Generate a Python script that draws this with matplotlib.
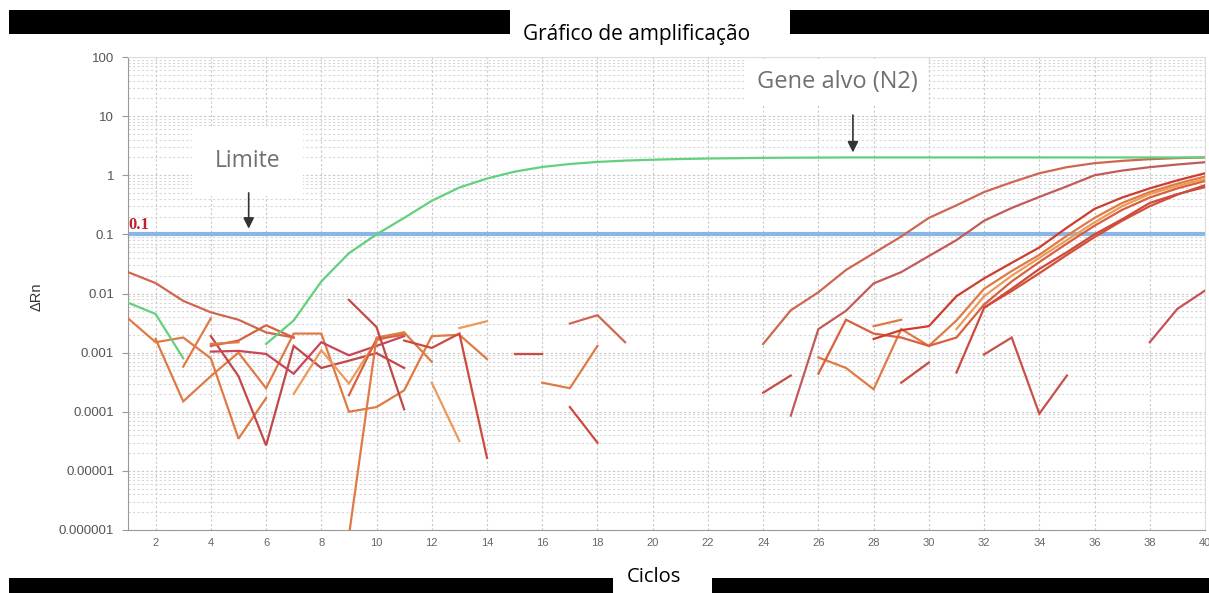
import matplotlib
matplotlib.use("Agg")
import matplotlib.pyplot as plt
from matplotlib.patches import Rectangle
from matplotlib.ticker import FixedLocator, LogLocator, NullFormatter

# each series: (first cycle, delta Rn values for consecutive cycles)
green_early = (1, [0.007, 0.0045, 0.0008])
green_main = (6, [0.0014, 0.0035, 0.016, 0.048, 0.1, 0.19, 0.37, 0.62, 0.88, 1.15,
                  1.38, 1.55, 1.68, 1.77, 1.83, 1.88, 1.92, 1.94, 1.97, 1.98,
                  1.99, 2.0, 2.0, 2.0, 2.0, 2.0, 2.0, 2.0, 2.0, 2.0, 2.0, 2.0,
                  2.0, 2.0, 2.0])

s01 = (1, [0.023, 0.015, 0.0075, 0.0048, 0.0036, 0.0022, 0.0018])
s02 = (1, [0.0038, 0.0015, 0.0018, 0.0008, 0.000035, 0.00017])
s03 = (2, [0.0017, 0.00015, 0.0004, 0.001, 0.00025, 0.0021, 0.0021, 0.0001,
           0.00012, 0.00023, 0.0019, 0.002, 0.00078])
s04 = (3, [0.00058, 0.0038])
s05 = (4, [0.0019, 0.0004, 0.000027, 0.0013, 0.00055, 0.00073, 0.00098, 0.00055])
s06 = (4, [0.0013, 0.0016, 0.0029, 0.0018])
s07 = (4, [0.0014, 0.0015])
s08 = (4, [0.00104, 0.00107, 0.00095, 0.00044, 0.0015, 0.0009, 0.0013, 0.0019])
s09 = (7, [0.0002, 0.0011, 0.0003, 0.0016, 0.0022])
s10 = (9, [0.00019, 0.0017, 0.002])
s11 = (9, [8e-7, 0.0018, 0.0022, 0.0007])
s12 = (9, [0.0078, 0.0027, 0.00011])
s13 = (11, [0.0016, 0.0012, 0.0021, 0.0000166])
s14 = (12, [0.00031, 0.000032])
s15 = (13, [0.0026, 0.0034])
s16 = (15, [0.00093, 0.00093])
s17 = (16, [0.00031, 0.00025, 0.0013])
s18 = (17, [0.0031, 0.0043, 0.0015])
s19 = (17, [0.00012, 0.00003])

r01 = (24, [0.0014, 0.0052, 0.0105, 0.025, 0.048, 0.092, 0.19, 0.31, 0.52, 0.76,
            1.08, 1.37, 1.6, 1.75, 1.87, 1.95, 2.0])
r02 = (25, [0.000086, 0.0025, 0.0051, 0.0148, 0.023, 0.043, 0.08, 0.17, 0.28, 0.43,
            0.65, 1.0, 1.2, 1.37, 1.52, 1.66])
r03 = (24, [0.00021, 0.00041])
r04 = (26, [0.00083, 0.00055, 0.00024, 0.0025, 0.0013, 0.0035, 0.012, 0.024, 0.045,
            0.095, 0.19, 0.34, 0.52, 0.72, 0.95])
r05 = (26, [0.00044, 0.0036, 0.0021, 0.0018, 0.0013, 0.0018, 0.0065, 0.016, 0.034,
            0.07, 0.14, 0.26, 0.42, 0.6, 0.8])
r06 = (28, [0.0017, 0.0024, 0.0028, 0.009, 0.018, 0.033, 0.06, 0.13, 0.27, 0.42,
            0.6, 0.82, 1.08])
r07 = (31, [0.0025, 0.009, 0.02, 0.04, 0.08, 0.16, 0.3, 0.48, 0.66, 0.86])
r08 = (32, [0.0058, 0.011, 0.022, 0.045, 0.09, 0.17, 0.3, 0.47, 0.68])
r09 = (31, [0.00046, 0.0057, 0.012, 0.026, 0.05, 0.1, 0.18, 0.34, 0.48, 0.63])
r10 = (32, [0.00093, 0.0018, 0.0000925, 0.00041])
r11 = (29, [0.00031, 0.00068])
r12 = (28, [0.0028, 0.0036])
r13 = (38, [0.0015, 0.0055, 0.0112])

threshold = 0.1
x_ticks = list(range(2, 41, 2))
y_ticks = [1e-6, 1e-5, 1e-4, 1e-3, 1e-2, 1e-1, 1, 10, 100]
y_labels = ["0.000001", "0.00001", "0.0001", "0.001", "0.01", "0.1", "1", "10", "100"]

RED = "#cc4a3e"
DRED = "#c24848"
BRICK = "#cf6650"
ORANGE = "#e07a45"
LORANGE = "#eb9a5a"
GREEN = "#62d07c"

lines = [
    (s01, BRICK), (s02, ORANGE), (s03, ORANGE), (s04, ORANGE), (s05, DRED),
    (s06, "#d9603f"), (s07, ORANGE), (s08, "#c9455a"), (s09, LORANGE),
    (s10, "#d9603f"), (s11, ORANGE), (s12, DRED), (s13, RED), (s14, LORANGE),
    (s15, LORANGE), (s16, RED), (s17, ORANGE), (s18, BRICK), (s19, RED),
    (r01, BRICK), (r02, "#c25a5a"), (r03, RED), (r04, ORANGE), (r05, "#d9603f"),
    (r06, "#cc3d30"), (r07, LORANGE), (r08, "#d45035"), (r09, RED), (r10, "#c85048"),
    (r11, RED), (r12, ORANGE), (r13, "#c85058"),
]

plt.rcParams["font.family"] = ["Liberation Sans", "DejaVu Sans"]

W, H = 1209, 593
fig = plt.figure(figsize=(W / 100, H / 100), dpi=100)
ax = fig.add_axes([128 / W, 1 - 530 / H, (1205 - 128) / W, (530 - 57) / H])

ax.set_yscale("log")
ax.set_xlim(1, 40)
ax.set_ylim(1e-6, 100)

# grid
ax.xaxis.set_major_locator(FixedLocator(x_ticks))
ax.yaxis.set_major_locator(FixedLocator(y_ticks))
ax.yaxis.set_minor_locator(LogLocator(base=10, subs=range(2, 10), numticks=20))
ax.yaxis.set_minor_formatter(NullFormatter())
ax.set_xticklabels([str(t) for t in x_ticks])
ax.set_yticklabels(y_labels)
ax.grid(True, which="major", axis="both", color="#c8c8c8", lw=0.8, ls=(0, (2, 2)))
ax.grid(True, which="minor", axis="y", color="#d8d8d8", lw=0.8, ls=(0, (2, 2)))
ax.set_axisbelow(True)

ax.tick_params(axis="y", which="major", length=4, color="#999999", labelsize=9.5,
               labelcolor="#555555", pad=6)
ax.tick_params(axis="y", which="minor", length=0)
ax.tick_params(axis="x", length=0, labelsize=8, labelcolor="#666666", pad=6)
for side in ("left", "bottom"):
    ax.spines[side].set_color("#999999")
for side in ("top", "right"):
    ax.spines[side].set_color("#dddddd")

for (start, vals), col in lines:
    ax.plot(range(start, start + len(vals)), vals, color=col, lw=1.6, zorder=3,
            solid_joinstyle="miter")
for start, vals in (green_early, green_main):
    ax.plot(range(start, start + len(vals)), vals, color=GREEN, lw=1.6, zorder=4)

ax.axhline(threshold, color="#8ab6e6", lw=3, zorder=2)
ax.text(1.03, 0.104, "0.1", color="#c0202a", fontsize=12, fontweight="bold",
        family="Liberation Serif", ha="left", va="bottom", zorder=5)

# annotations
ax.text(5.33, 1.37, "Limite", family="Open Sans", fontsize=16.5, color="#707070",
        ha="center", va="baseline", zorder=2,
        bbox=dict(boxstyle="square,pad=1.0", fc="white", ec="none"))
ax.annotate("", xy=(5.37, 0.112), xytext=(5.37, 0.56),
            arrowprops=dict(arrowstyle="-|>", color="#333333", lw=1.2, mutation_scale=16),
            zorder=5)
ax.text(26.67, 29.8, "Gene alvo (N2)", family="Open Sans", fontsize=17, color="#707070",
        ha="center", va="baseline", zorder=2,
        bbox=dict(boxstyle="square,pad=0.45", fc="white", ec="none"))
ax.annotate("", xy=(27.25, 2.18), xytext=(27.25, 11.6),
            arrowprops=dict(arrowstyle="-|>", color="#333333", lw=1.2, mutation_scale=16),
            zorder=5)

fig.text(37 / W, 1 - 297 / H, "\u0394Rn", rotation=90, ha="center", va="center",
         fontsize=10.5, color="#333333")

# black header / footer bars
def bar(x0, x1, y0, y1):
    fig.patches.append(Rectangle((x0 / W, 1 - y1 / H), (x1 - x0) / W, (y1 - y0) / H,
                                 transform=fig.transFigure, fc="black", ec="none"))

bar(9, 510, 10, 34)
bar(790, 1209, 10, 34)
bar(9, 613, 578, 593)
bar(712, 1209, 578, 593)

fig.text(637 / W, 1 - 40 / H, "Gráfico de amplificação", family="Open Sans",
         fontsize=15, color="black", ha="center", va="baseline")
fig.text(654 / W, 1 - 582 / H, "Ciclos", family="Open Sans", fontsize=14.5,
         color="black", ha="center", va="baseline")

fig.savefig("out.png", dpi=100)
